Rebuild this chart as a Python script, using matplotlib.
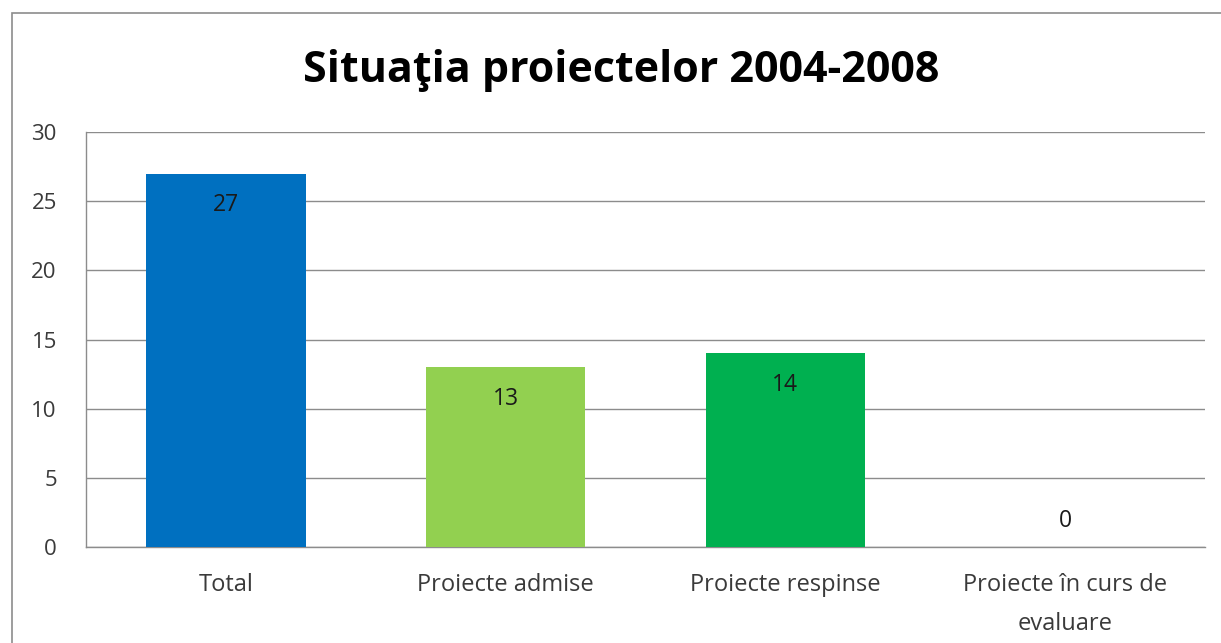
import matplotlib
matplotlib.use('Agg')
import matplotlib.pyplot as plt
from matplotlib.patches import Rectangle

plt.rcParams['font.family'] = ['Open Sans', 'DejaVu Sans']

categories = ['Total', 'Proiecte admise', 'Proiecte respinse', 'Proiecte în curs de\nevaluare']
values = [27, 13, 14, 0]
colors = ['#0070C0', '#92D050', '#00B050', '#00B050']
title = 'Situaţia proiectelor 2004-2008'

fig = plt.figure(figsize=(12.21, 6.43), dpi=100)
W, H = 1221, 643

# chart border (runs off right/bottom like the source)
fig.patches.append(Rectangle((12 / W, -0.1), 1.2, 1 - 13 / H + 0.1,
                             transform=fig.transFigure, fill=False,
                             edgecolor='#8c8c8c', linewidth=1.2))

ax = fig.add_axes([86 / W, 1 - 547 / H, (1205 - 86) / W, (547 - 132) / H])

x = range(len(categories))
bars = ax.bar(x, values, width=0.57, color=colors, zorder=3)

ax.set_xlim(-0.5, len(categories) - 0.5)
ax.set_ylim(0, 30)
ax.set_yticks(range(0, 31, 5))
ax.yaxis.grid(True, color='#8c8c8c', linewidth=1.0, zorder=0)
ax.set_axisbelow(True)

for s in ['top', 'right']:
    ax.spines[s].set_visible(False)
for s in ['left', 'bottom']:
    ax.spines[s].set_color('#8c8c8c')
    ax.spines[s].set_linewidth(1.0)

ax.tick_params(axis='both', length=0, labelsize=16, colors='#3a3a3a')
ax.tick_params(axis='y', pad=21)
ax.tick_params(axis='x', pad=19, labelsize=17)
ax.set_xticks(list(x))
ax.set_xticklabels(categories, linespacing=1.8)

for b, v in zip(bars, values):
    cx = b.get_x() + b.get_width() / 2
    if v > 0:
        ax.annotate(str(v), (cx, v), xytext=(0, -23), textcoords='offset points',
                    ha='center', va='center', fontsize=16.5, color='#1a1a1a')
    else:
        ax.annotate(str(v), (cx, v), xytext=(0, 19), textcoords='offset points',
                    ha='center', va='center', fontsize=16.5, color='#1a1a1a')

fig.text(621 / W, 1 - 70 / H, title, ha='center', va='center',
         fontsize=31, fontweight='bold', color='#000000')

fig.savefig('out.png', dpi=100)
